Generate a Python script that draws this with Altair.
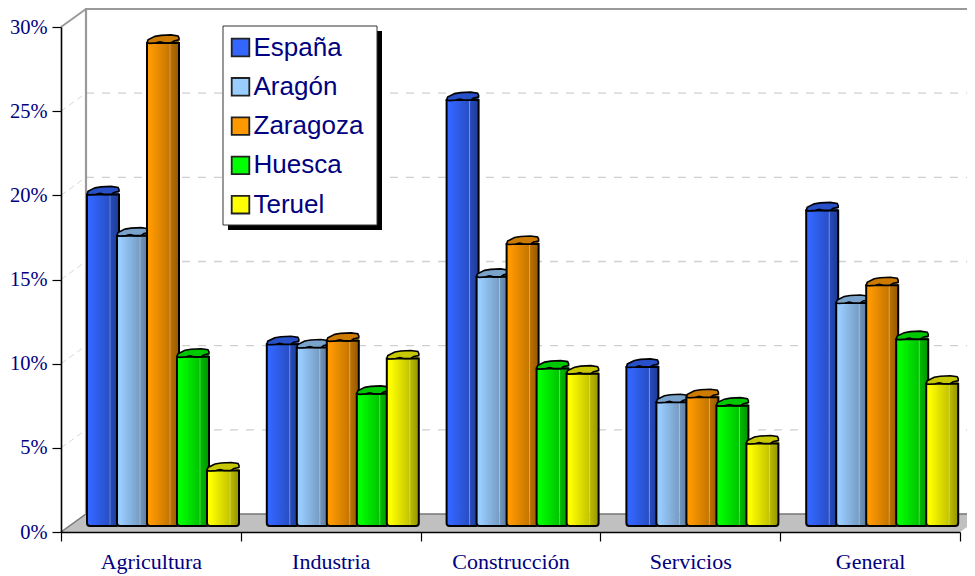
import altair as alt
import pandas as pd

categories = ["Agricultura", "Industria", "Construcción", "Servicios", "General"]
series = ["España", "Aragón", "Zaragoza", "Huesca", "Teruel"]
espana = [19.7, 10.8, 25.3, 9.45, 18.75]
aragon = [17.25, 10.6, 14.8, 7.35, 13.25]
zaragoza = [28.7, 11.0, 16.75, 7.65, 14.3]
huesca = [10.05, 7.85, 9.35, 7.15, 11.1]
teruel = [3.3, 9.95, 9.05, 4.9, 8.45]
values = [espana, aragon, zaragoza, huesca, teruel]
colors = ["#3366ff", "#99ccff", "#ff9900", "#00ff00", "#ffff00"]
cap_colors = ["#2850c8", "#7aa3cc", "#cc7a00", "#00c800", "#c8c800"]

W, H = 899, 505
PX = W / 5
PY = H / 30
NAVY = "#000080"
ux = lambda px: px / PX
uy = lambda px: px / PY

xs = alt.Scale(domain=[0, 5], nice=False, zero=False)
ys = alt.Scale(domain=[0, 30], nice=False, zero=False)
cs = alt.Scale(domain=series, range=colors)

x_axis = alt.Axis(
    values=[0, 1, 2, 3, 4, 5], grid=False, zindex=1, title=None,
    labelExpr="[" + ",".join(f"'{c}'" for c in categories) + "][datum.value] || ''",
    labelOffset=PX / 2, labelFont="Liberation Serif", labelFontSize=22, labelColor=NAVY,
    labelAngle=0, labelOverlap=False, labelFlush=False, labelBound=False,
    labelPadding=10, tickSize=9, tickColor="#000000", tickWidth=1.2,
    domainColor="#000000", domainWidth=1.6)
y_axis = alt.Axis(
    values=[0, 5, 10, 15, 20, 25, 30], grid=False, zindex=1, title=None,
    labelExpr="datum.value + '%'", labelFont="Liberation Serif", labelFontSize=20.5,
    labelColor=NAVY, labelPadding=5, tickSize=9, tickColor="#000000", tickWidth=1.2,
    domainColor="#000000", domainWidth=1.6, labelOverlap=False, labelFlush=False)


def X(f, **kw):
    return alt.X(f + ":Q", scale=xs, axis=x_axis, **kw)


def Y(f, **kw):
    return alt.Y(f + ":Q", scale=ys, axis=y_axis, **kw)


back_dx, back_dy = ux(25), uy(18)

floor = pd.DataFrame({
    "x": [0, back_dx, 5, 5 + back_dx],
    "t": [0, back_dy, back_dy, back_dy],
    "b": [0, 0, 0, back_dy],
})
floor_layer = alt.Chart(floor).mark_area(color="#c0c0c0", line=False).encode(
    x=X("x"), y=Y("t"), y2=alt.Y2("b"))

grid_vals = [5, 10, 15, 20, 25]
grid = pd.DataFrame({"v": grid_vals})
grid["y"] = grid.v + back_dy
grid["x"] = back_dx
grid["x2"] = 5 + back_dx
grid_layer = alt.Chart(grid).mark_rule(color="#d0d0d0", strokeWidth=1.4, strokeDash=[8, 8]).encode(
    x=X("x"), x2="x2", y=Y("y"))

diag = pd.concat([
    pd.DataFrame({"v": grid_vals, "x": 0.0, "y": [float(v) for v in grid_vals]}),
    pd.DataFrame({"v": grid_vals, "x": back_dx, "y": [v + back_dy for v in grid_vals]}),
])
diag_layer = alt.Chart(diag).mark_line(color="#d8d8d8", strokeWidth=1, strokeDash=[6, 4]).encode(
    x=X("x"), y=Y("y"), detail="v:N")

wall = pd.DataFrame({
    "x": [5 + back_dx, back_dx, back_dx],
    "y": [30 + back_dy, 30 + back_dy, back_dy],
})
wall_layer = alt.Chart(wall.assign(o=range(3))).mark_line(color="#999999", strokeWidth=2.2).encode(
    x=X("x"), y=Y("y"), order="o:O")
top_diag = pd.DataFrame({"x": [0, back_dx], "y": [30, 30 + back_dy]})
top_diag_layer = alt.Chart(top_diag).mark_line(color="#999999", strokeWidth=2).encode(
    x=X("x"), y=Y("y"))
floor_back = pd.DataFrame({"x": [0, back_dx, 5, 5 + back_dx], "y": [0, back_dy, back_dy, back_dy]})
floor_line = alt.Chart(floor_back).mark_line(color="#777777", strokeWidth=1.5).encode(
    x=X("x"), y=Y("y"))

shadow = alt.Chart(pd.DataFrame({"a": [0]})).mark_rect(fill="#000000").encode(
    x=alt.value(167), x2=alt.value(321), y=alt.value(4), y2=alt.value(203))
box = alt.Chart(pd.DataFrame({"a": [0]})).mark_rect(fill="#ffffff", stroke="#333333", strokeWidth=1).encode(
    x=alt.value(162), x2=alt.value(316), y=alt.value(-1), y2=alt.value(198))

legend = alt.Legend(
    title=None, orient="none", legendX=158, legendY=-1, padding=8.5, symbolType="square",
    symbolSize=310, symbolStrokeColor="#222222", symbolStrokeWidth=1.8, labelFont="Liberation Sans",
    labelFontSize=26, labelColor=NAVY, labelOffset=0, rowPadding=13.3, labelLimit=200,
)


def cap_path():
    pts = [(0, 8), (1, 5), (8, 1.5), (14, 0.5), (24, 0), (31, 1), (32, 3), (32, 5)]
    bottom = [(27, 6), (24, 8), (17, 8), (13, 7), (9, 8), (3, 8.5)]
    t = lambda p: f"{(p[0] - 16) / 16:.3f},{(p[1] - 8) / 16:.3f}"
    return "M" + " L".join(t(p) for p in pts + bottom) + " Z"


PATH = cap_path()
rows_layers = []
for si, name in enumerate(series):
    rows = []
    for ci, v in enumerate(values[si]):
        left = ci + ux(26 + 30 * si)
        rows.append({
            "series": name,
            "x0": left,
            "xm": left + ux(23),
            "x1": left + ux(32),
            "xc": left + ux(16),
            "base": uy(6),
            "top": v + uy(6),
            "side_top": v + uy(8),
        })
    d = pd.DataFrame(rows)
    col = alt.Color("series:N", scale=cs, legend=legend, sort=series)
    front = alt.Chart(d).mark_bar(cornerRadiusBottomLeft=3).encode(
        x=X("x0"), x2="xm", y=Y("top"), y2="base", color=col)
    side = alt.Chart(d).mark_bar(cornerRadiusBottomRight=3).encode(
        x=X("xm"), x2="x1", y=Y("side_top"), y2="base", color=col)
    grad_f = alt.Chart(d).mark_bar(
        cornerRadiusBottomLeft=3,
        color=alt.Gradient(gradient="linear", x1=0, x2=1, y1=0, y2=0, stops=[
            alt.GradientStop(offset=0, color="rgba(0,0,0,0)"),
            alt.GradientStop(offset=0.15, color="rgba(0,0,0,0)"),
            alt.GradientStop(offset=1, color="rgba(0,0,0,0.24)"),
        ])).encode(x=X("x0"), x2="xm", y=Y("top"), y2="base")
    grad_s = alt.Chart(d).mark_bar(
        cornerRadiusBottomRight=3,
        color=alt.Gradient(gradient="linear", x1=0, x2=1, y1=0, y2=0, stops=[
            alt.GradientStop(offset=0, color="rgba(0,0,0,0.26)"),
            alt.GradientStop(offset=1, color="rgba(0,0,0,0.42)"),
        ])).encode(x=X("xm"), x2="x1", y=Y("side_top"), y2="base")
    light = alt.Chart(d).mark_rule(color="#ffffff", opacity=0.3, strokeWidth=1).encode(
        x=X("xm"), y=Y("top"), y2="base")
    outline = alt.Chart(d).mark_bar(
        fill="transparent", stroke="#000000", strokeWidth=2,
        cornerRadiusBottomLeft=3, cornerRadiusBottomRight=3).encode(
        x=X("x0"), x2="x1", y=Y("top"), y2="base")
    cap = alt.Chart(d).mark_point(
        shape=PATH, size=1024, filled=True, opacity=1, fill=cap_colors[si],
        stroke="#000000", strokeWidth=1.6).encode(x=X("xc"), y=Y("top"))
    rows_layers += [front, side, grad_f, grad_s, light, outline, cap]

chart = alt.layer(
    floor_layer, grid_layer, diag_layer, floor_line, wall_layer, top_diag_layer,
    shadow, box, *rows_layers
).properties(
    width=W, height=H,
    autosize=alt.AutoSizeParams(type="none"),
    padding={"left": 53, "top": 19, "right": 7, "bottom": 44},
    background="#ffffff",
).configure_view(stroke=None)

chart.save("out.html", embed_options={"renderer": "svg", "actions": False})
